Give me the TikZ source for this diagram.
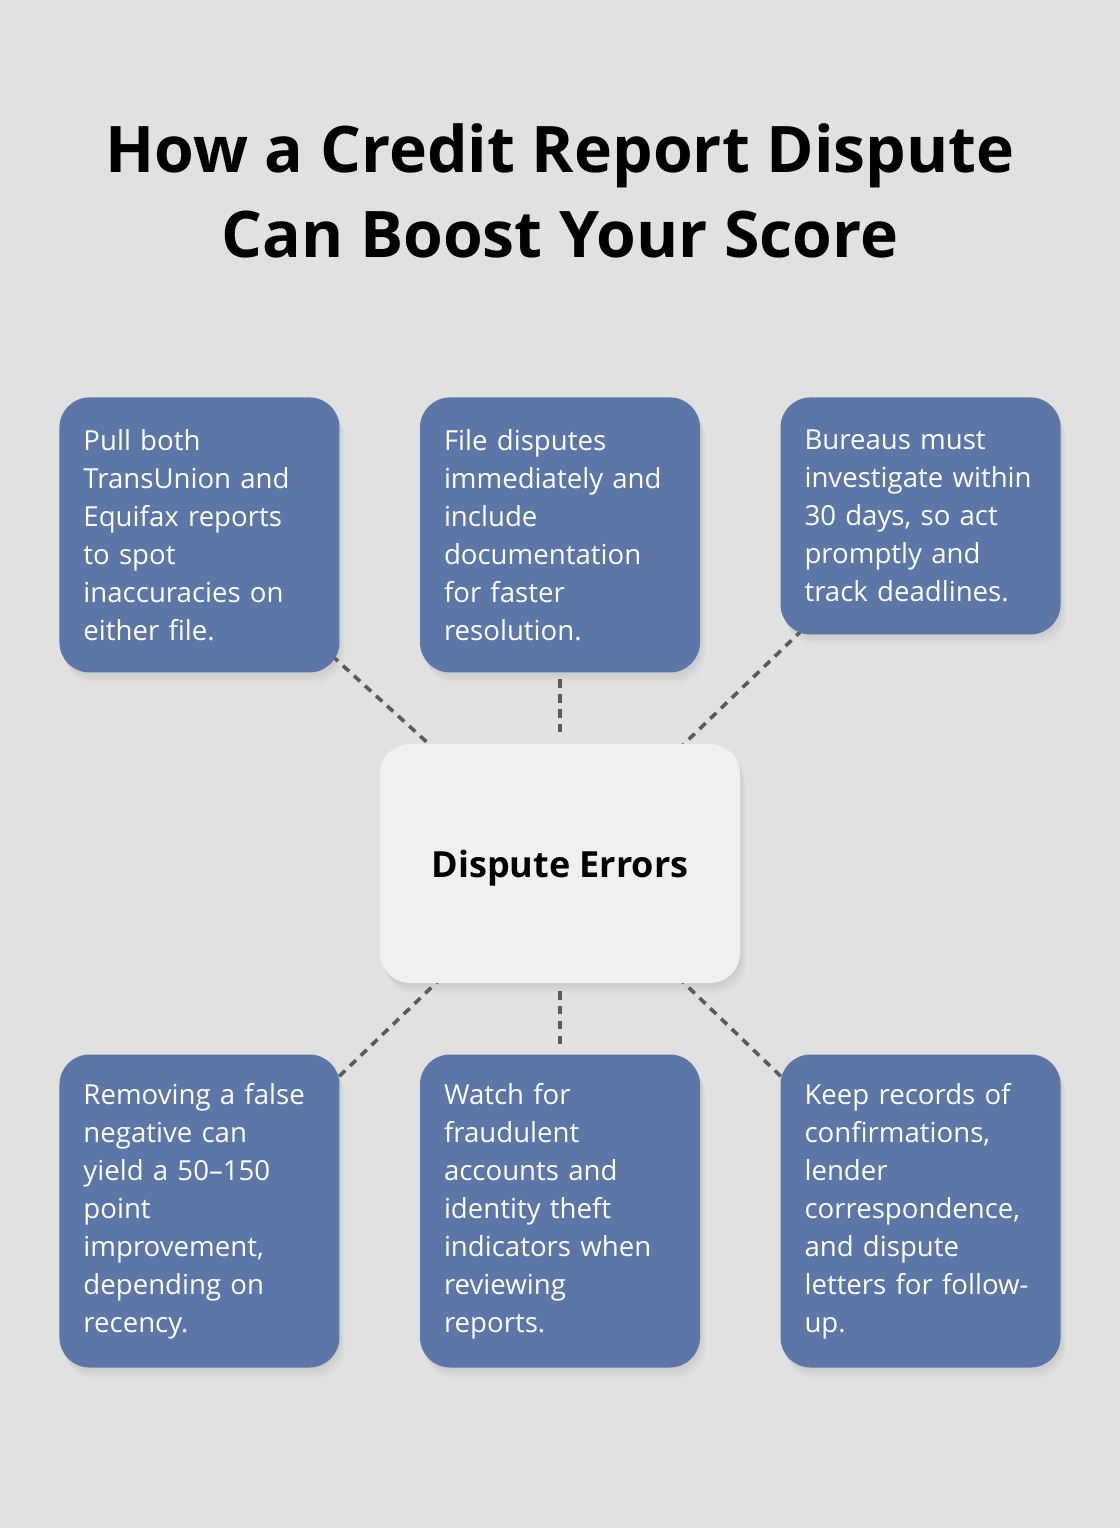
\documentclass[tikz,border=0pt]{standalone}
\usepackage{fontspec}
\setmainfont{Open Sans}
\usepackage{tikz}
\usetikzlibrary{positioning,shadows}

\definecolor{pagebg}{HTML}{E0E1E0}
\definecolor{tipblue}{HTML}{5B76A7}
\definecolor{hubfill}{HTML}{EFF0F2}
\definecolor{dashgray}{HTML}{5A5A5A}

\pgfdeclarelayer{bg}
\pgfdeclarelayer{links}
\pgfsetlayers{bg,links,main}

\begin{document}
\begin{tikzpicture}[
  node distance=53.25pt and 60pt,
  softshadow/.style={drop shadow={opacity=0.05, shadow xshift=1pt, shadow yshift=-2pt}, drop shadow={opacity=0.05, shadow xshift=2pt, shadow yshift=-4pt}, drop shadow={opacity=0.05, shadow xshift=3pt, shadow yshift=-6pt}, drop shadow={opacity=0.04, shadow xshift=4pt, shadow yshift=-8pt}},
  tipbox/.style={rectangle, rounded corners=22.5pt, fill=tipblue, text=white, align=left, text width=174pt, inner xsep=18pt, inner ysep=0pt, minimum width=210pt, font=\fontsize{20.7}{28.5}\selectfont, softshadow},
  hubbox/.style={rectangle, rounded corners=22.5pt, fill=hubfill, align=center, minimum width=270pt, minimum height=179.25pt, text depth=0pt, font=\fontsize{27}{32}\selectfont\bfseries, softshadow},
  dashlink/.style={draw=dashgray, line width=2.7pt, dash pattern=on 6.2pt off 5pt}
]

\useasboundingbox (0,0) rectangle (840pt,-1146pt);
\begin{pgfonlayer}{bg}
\fill[pagebg] (0,0) rectangle (840pt,-1146pt);
\end{pgfonlayer}

\node[anchor=north, inner sep=0pt, align=center, font=\fontsize{48.2}{63.75}\selectfont\bfseries] (title) at (420pt,-92.4pt) {How a Credit Report Dispute\\Can Boost Your Score};

\node[hubbox] (hub) at (420pt,-647.6pt) {Dispute Errors};

\node[tipbox, minimum height=206.25pt, above=of hub] (file) {File disputes\\immediately and\\include\\documentation\\for faster\\resolution.};
\node[tipbox, minimum height=206.25pt, left=of file] (pull) {Pull both\\TransUnion and\\Equifax reports\\to spot\\inaccuracies on\\either file.};
\node[tipbox, minimum height=177.75pt, right=of file.north east, anchor=north west] (bureau) {Bureaus must\\investigate within\\30 days, so act\\promptly and\\track deadlines.};

\node[tipbox, minimum height=234.75pt, below=of hub] (watch) {Watch for\\fraudulent\\accounts and\\identity theft\\indicators when\\reviewing\\reports.};
\node[tipbox, minimum height=234.75pt, left=of watch] (remove) {Removing a false\\negative can\\yield a 50--150\\point\\improvement,\\depending on\\recency.};
\node[tipbox, minimum height=234.75pt, right=of watch] (records) {Keep records of\\confirmations,\\lender\\correspondence,\\and dispute\\letters for follow-\\up.};

\begin{pgfonlayer}{links}
\draw[dashlink] (pull.center) -- (hub.center);
\draw[dashlink] (bureau.center) -- (hub.center);
\draw[dashlink] (remove.center) -- (hub.center);
\draw[dashlink] (records.center) -- (hub.center);
\draw[dashlink, shorten <=5pt, shorten >=4.5pt] (file) -- (hub);
\draw[dashlink, shorten <=6pt, shorten >=4.5pt] (hub) -- (watch);
\end{pgfonlayer}

\end{tikzpicture}
\end{document}
